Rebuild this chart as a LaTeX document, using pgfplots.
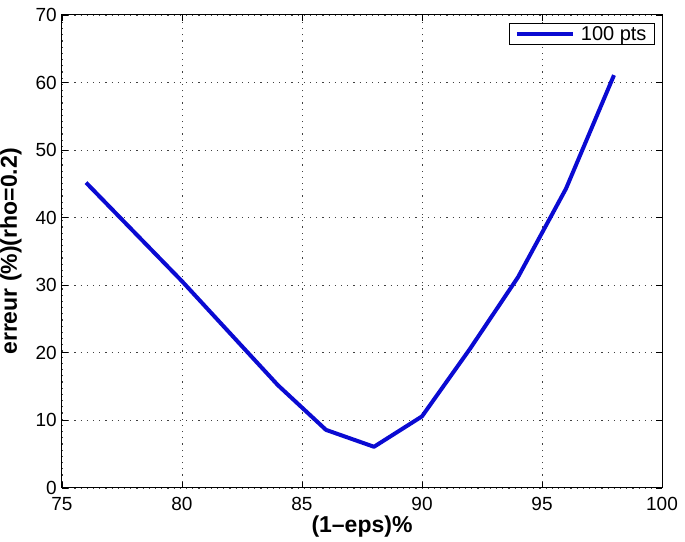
\documentclass[border=0pt]{standalone}
\usepackage{pgfplots}
\pgfplotsset{compat=1.18}
\usepackage{fontspec}
\setmainfont{Liberation Sans}
\begin{document}
\begin{tikzpicture}[x=1pt,y=1pt]
\begin{axis}[
  name=ax,
  scale only axis,
  width=600pt, height=473pt,
  at={(0,0)}, anchor=south west,
  xmin=75, xmax=100, ymin=0, ymax=70,
  xtick={75,80,...,100}, ytick={0,10,...,70},
  grid=major,
  major grid style={black!75, dash pattern=on 1.2pt off 5pt, line width=0.8pt},
  tick align=inside,
  major tick length=6pt,
  axis line style={line width=1pt},
  tick style={black, line width=0.8pt},
  /pgf/number format/assume math mode=true,
  ticklabel style={font=\fontsize{19}{21}\selectfont, inner sep=0pt},
  xticklabel style={anchor=north, yshift=-9pt},
  yticklabel style={anchor=east, xshift=-5pt},
  xlabel={\textbf{(1–eps)\%}},
  ylabel={\textbf{erreur (\%)(rho=0.2)}},
  label style={font=\fontsize{23}{25}\selectfont},
  xlabel style={at={(axis description cs:0.5,0)}, anchor=center, yshift=-39pt},
  ylabel style={at={(axis description cs:0,0.5)}, anchor=center, yshift=51pt},
  legend style={at={(1,1)}, anchor=north east, xshift=-7pt, yshift=-8pt, font=\fontsize{20}{22}\selectfont, draw=black, line width=1pt, inner xsep=6pt, inner ysep=1pt},
  legend cell align=left,
  legend image code/.code={\draw[#1, line width=3.5pt] (0pt,0pt) -- (56pt,0pt); \path (60pt,0pt);},
]
\addplot[color={rgb,255:red,10;green,10;blue,210}, line width=4pt, line join=round] coordinates {
(76,45.2) (78,37.9) (80,30.6) (82,22.9) (84,15.2) (86,8.6) (88,6.1) (90,10.6) (92,20.6) (94,31.2) (96,44.3) (98,61.1)
};
\addlegendentry{100 pts}
\end{axis}
\pgfresetboundingbox
\path (ax.south west) ++(-62pt,-54pt) coordinate (bl);
\path (ax.north east) ++(23pt,15pt) coordinate (tr);
\path[use as bounding box] (bl) rectangle (tr);
\end{tikzpicture}
\end{document}
